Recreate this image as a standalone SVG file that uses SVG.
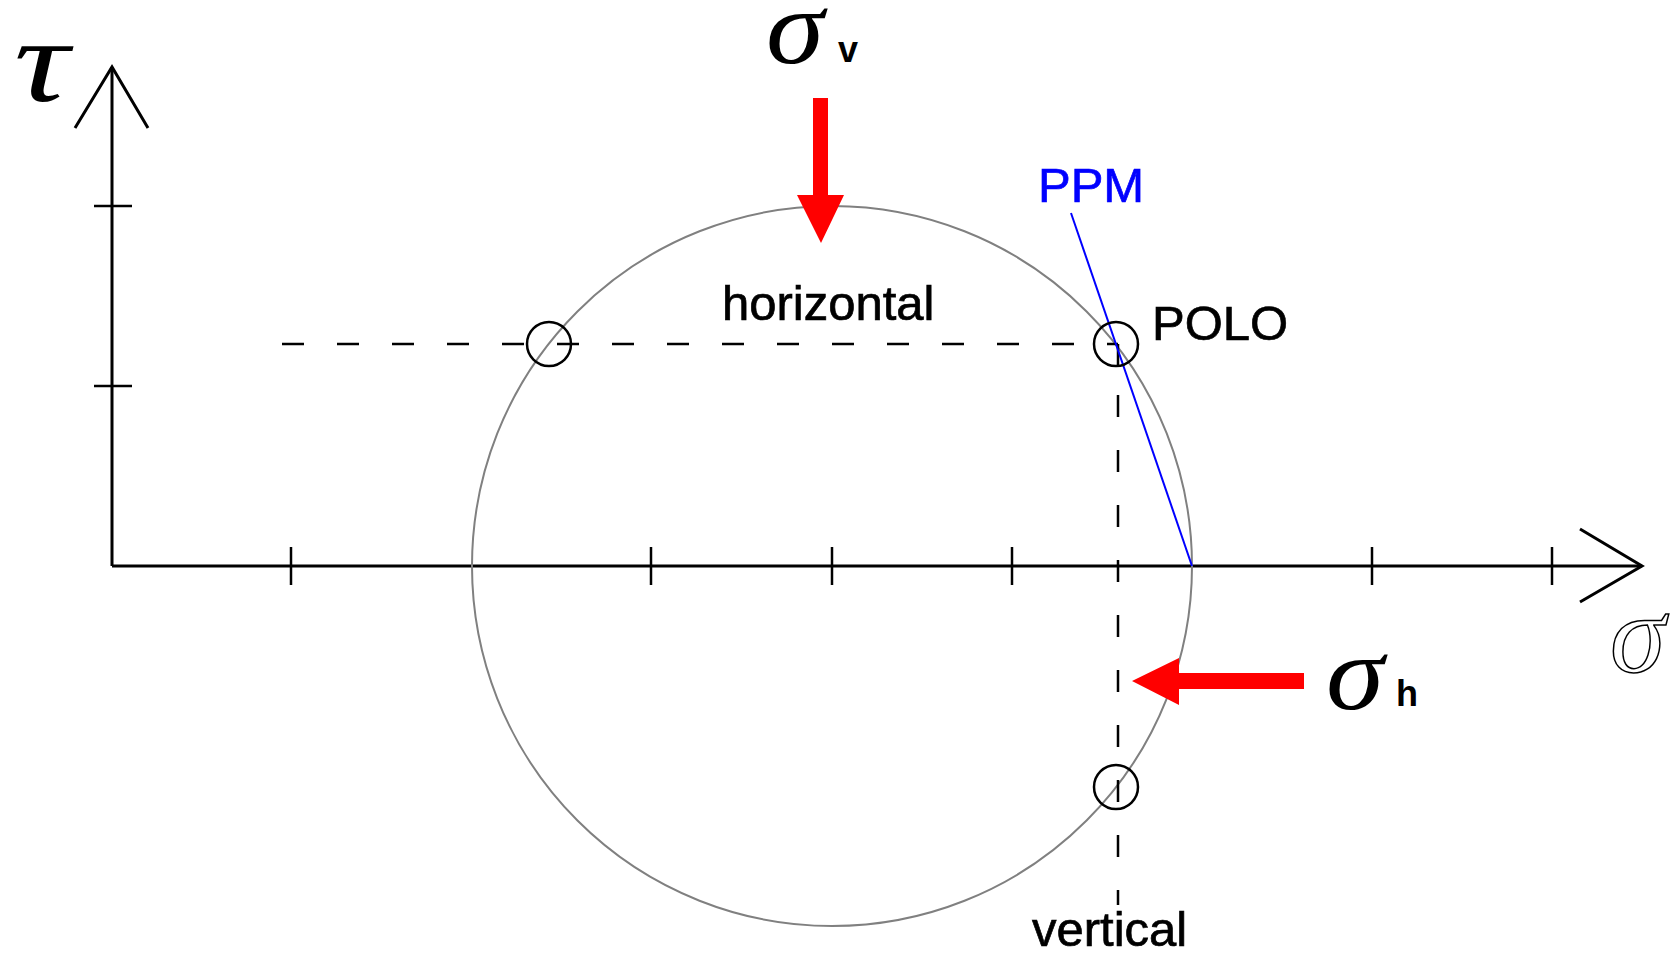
<svg xmlns="http://www.w3.org/2000/svg" width="1672" height="957" viewBox="0 0 1672 957">
<defs>
<style>
.ax{stroke:#000;stroke-width:3;fill:none}
.tk{stroke:#000;stroke-width:2.5}
.dash{stroke:#000;stroke-width:2.5;stroke-dasharray:22 33;fill:none}
.pt{stroke:#000;stroke-width:2.5;fill:none}
.lbl{font-family:"Liberation Sans",Arial,sans-serif;font-size:49px;fill:#000;stroke:#000;stroke-width:0.7}
.ppm{fill:#0000ff;stroke:#0000ff}
.greek{font-family:"Liberation Serif","Times New Roman",serif;font-style:italic;font-size:105px;fill:#000}
.hollow{fill:#fff;stroke:#000;stroke-width:1.5}
.sub{font-family:"Liberation Sans",Arial,sans-serif;font-weight:bold;font-size:36px;fill:#000}
.red{fill:#ff0000}
</style>
</defs>
<rect width="1672" height="957" fill="#fff"/>
<g id="axes">
<line class="ax" x1="112" y1="67" x2="112" y2="566"/>
<line class="ax" x1="112" y1="566" x2="1642" y2="566"/>
<polyline class="ax" points="75,128 112,67 148,128" stroke-width="2"/>
<polyline class="ax" points="1580,529 1642,566 1580,602" stroke-width="2"/>
<g class="tk">
<line x1="94" y1="206" x2="132" y2="206"/>
<line x1="94" y1="386" x2="132" y2="386"/>
<line x1="291" y1="547" x2="291" y2="585"/>
<line x1="651" y1="547" x2="651" y2="585"/>
<line x1="832" y1="547" x2="832" y2="585"/>
<line x1="1012" y1="547" x2="1012" y2="585"/>
<line x1="1372" y1="547" x2="1372" y2="585"/>
<line x1="1552" y1="547" x2="1552" y2="585"/>
</g>
<text class="greek" x="14" y="101" style="font-size:118px" transform="translate(14 0) scale(1.3 1) translate(-14 0)">τ</text>
<text class="greek hollow" x="1610" y="672" style="font-size:112px">σ</text>
</g>
<g id="mohr-circle">
<circle cx="832" cy="566" r="360" fill="none" stroke="#808080" stroke-width="2"/>
</g>
<g id="connectors">
<line class="dash" x1="282" y1="344" x2="1118" y2="344"/>
<line class="dash" x1="1118" y1="395" x2="1118" y2="905"/>
<line class="dash" x1="1118" y1="344" x2="1118" y2="366" style="stroke-dasharray:none"/>
<line x1="1071" y1="213" x2="1192" y2="566" stroke="#0000ff" stroke-width="2"/>
</g>
<g id="point-left"><circle class="pt" cx="549" cy="344" r="22"/></g>
<g id="point-polo"><circle class="pt" cx="1116" cy="344" r="22"/>
<text class="lbl" x="1152" y="340">POLO</text></g>
<g id="point-bottom"><circle class="pt" cx="1116" cy="787" r="22"/></g>
<g id="label-ppm"><text class="lbl ppm" x="1038" y="202">PPM</text></g>
<g id="label-horizontal"><text class="lbl" x="722" y="320">horizontal</text></g>
<g id="label-vertical"><text class="lbl" x="1032" y="946">vertical</text></g>
<g id="sigma-v">
<polygon class="red" points="813,98 828,98 828,195 844,195 821,243 797,195 813,195"/>
<text class="greek" x="766" y="63" transform="translate(766 0) scale(1.12 1) translate(-766 0)">σ</text>
<text class="sub" x="838" y="62">v</text>
</g>
<g id="sigma-h">
<polygon class="red" points="1304,673 1304,689 1179,689 1179,705 1132,681 1179,658 1179,673"/>
<text class="greek" x="1326" y="709" transform="translate(1326 0) scale(1.12 1) translate(-1326 0)">σ</text>
<text class="sub" x="1396" y="706">h</text>
</g>
</svg>
